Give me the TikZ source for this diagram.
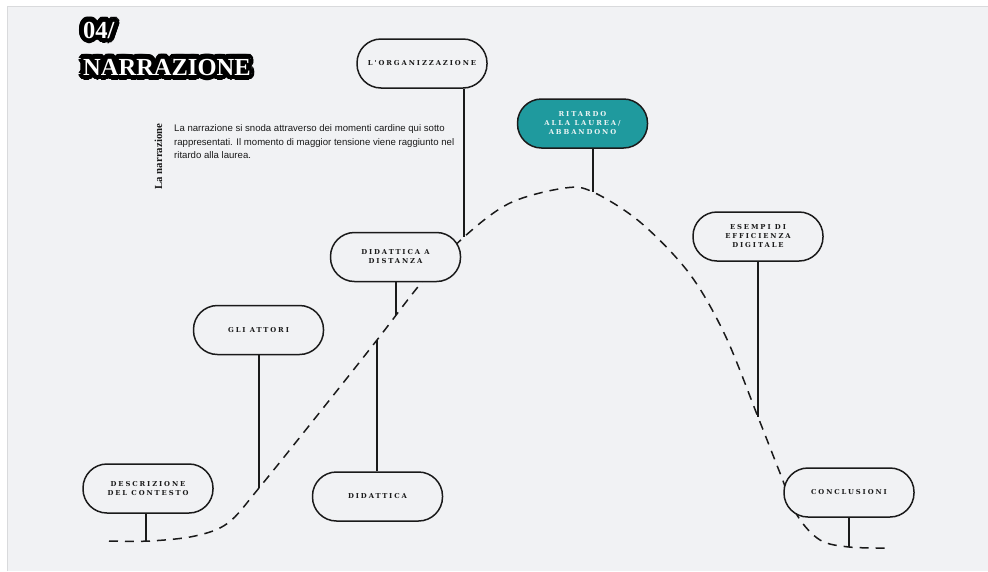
\documentclass[tikz,border=0pt]{standalone}
\usepackage{fontspec}
\setmainfont{Liberation Serif}
\newfontfamily\titlefont{Liberation Serif Bold}
\newfontfamily\labelfont{DejaVu Serif Bold}[LetterSpace=28]
\newfontfamily\bodyfont{Liberation Sans}
\definecolor{bgc}{HTML}{F1F2F4}
\definecolor{edgec}{HTML}{D9DADC}
\definecolor{ink}{HTML}{1A1A1A}
\definecolor{tealc}{HTML}{1F9A9E}
\definecolor{paletext}{HTML}{EAF4F4}
\tikzset{
  stadium/.style={rectangle, rounded corners=24pt, draw=ink, line width=1.5pt, fill=bgc,
    minimum width=130pt, minimum height=49pt, align=center, inner sep=0pt, text=ink,
    font=\labelfont\fontsize{6.8}{9}\selectfont},
  hot/.style={stadium, fill=tealc, text=paletext},
  link/.style={draw=ink, line width=1.5pt},
  arcline/.style={draw=ink, line width=1.5pt, dash pattern=on 9pt off 7pt},
  titletext/.style={anchor=base west, inner sep=0pt, text=white, font=\titlefont\fontsize{24.5}{25}\selectfont},
  halotext/.style={anchor=base west, inner sep=0pt, text=black, font=\titlefont\fontsize{24.5}{25}\selectfont},
  bodytext/.style={anchor=base west, inner sep=0pt, text=ink, font=\bodyfont\fontsize{9.6}{13.5}\selectfont}
}
\begin{document}
\begin{tikzpicture}[x=1pt,y=-1pt]
\useasboundingbox (0,0) rectangle (988,571);
\fill[white] (0,0) rectangle (988,571);
\fill[bgc] (7,6) rectangle (988,571);
\draw[edgec, line width=1pt] (7,571) -- (7,6) -- (988,6);

% title with black halo
\foreach \a in {0,15,...,345}{
  \node[halotext] at ([shift={(\a:5pt)}] 83,38) {04/};
  \node[halotext] at ([shift={(\a:5pt)}] 83,75) {NARRAZIONE};
}
\foreach \a in {0,30,...,330}{
  \node[halotext] at ([shift={(\a:2.5pt)}] 83,38) {04/};
  \node[halotext] at ([shift={(\a:2.5pt)}] 83,75) {NARRAZIONE};
}
\node[titletext] (num) at (83,38) {04/};
\node[titletext] (title) at (83,75) {NARRAZIONE};

% side label and body text
\node[rotate=90, inner sep=0pt, text=ink, font=\bfseries\fontsize{10.8}{12}\selectfont] (side) at (158.5,156.5) {La narrazione};
\node[bodytext] (t1) at (174,131.5) {La narrazione si snoda attraverso dei momenti cardine qui sotto};
\node[bodytext] (t2) at (174,145) {rappresentati. Il momento di maggior tensione viene raggiunto nel};
\node[bodytext] (t3) at (174,158.5) {ritardo alla laurea.};

% dashed narrative curve
\draw[arcline] plot[smooth, tension=0.55] coordinates {
  (109,541) (150,541) (195,536) (228,523) (259,488) (320,412) (377,340) (422,282)
  (464,237) (510,203) (565,188) (593,192) (640,222) (689,273) (725,335) (758,417)
  (780,473) (797,515) (820,540) (849,547) (888,548)};

% points on the curve
\coordinate (descrEnd) at (146,541);
\coordinate (attoriEnd) at (259,488);
\coordinate (didEnd) at (377,340);
\coordinate (dadEnd) at (396,315);
\coordinate (orgEnd) at (464,237);
\coordinate (ritEnd) at (593,192);
\coordinate (esEnd) at (758,417);
\coordinate (conclEnd) at (849,547);

% boxes
\node[stadium] (org) at (422,63.5) {L'ORGANIZZAZIONE};
\node[hot] (rit) at (582.5,123.5) {RITARDO\\ALLA LAUREA/\\ABBANDONO};
\node[stadium] (es) at (758,236.5) {ESEMPI DI\\EFFICIENZA\\DIGITALE};
\node[stadium] (dad) at (395.5,257) {DIDATTICA A\\DISTANZA};
\node[stadium] (attori) at (258.5,330) {GLI ATTORI};
\node[stadium] (descr) at (148,488.5) {DESCRIZIONE\\DEL CONTESTO};
\node[stadium] (did) at (377.5,496.5) {DIDATTICA};
\node[stadium] (concl) at (849,492.5) {CONCLUSIONI};

% connectors
\draw[link] (orgEnd |- org.south) -- (orgEnd);
\draw[link] (ritEnd |- rit.south) -- (ritEnd);
\draw[link] (esEnd |- es.south) -- (esEnd);
\draw[link] (dadEnd |- dad.south) -- (dadEnd);
\draw[link] (attoriEnd |- attori.south) -- (attoriEnd);
\draw[link] (descrEnd |- descr.south) -- (descrEnd);
\draw[link] (didEnd |- did.north) -- (didEnd);
\draw[link] (conclEnd |- concl.south) -- (conclEnd);
\end{tikzpicture}
\end{document}
